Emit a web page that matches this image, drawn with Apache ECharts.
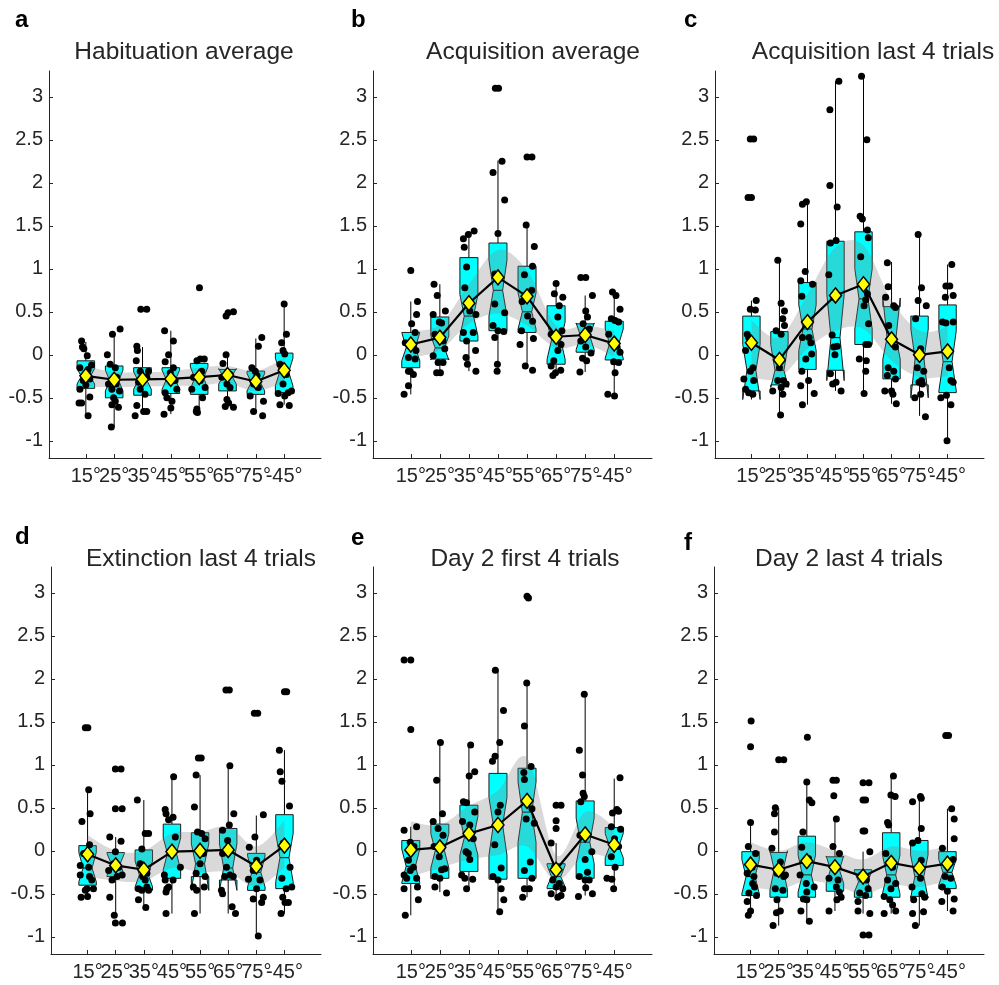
<!DOCTYPE html>
<html><head><meta charset="utf-8">
<script src="https://cdn.jsdelivr.net/npm/echarts@6/dist/echarts.min.js"></script>
<style>html,body{margin:0;padding:0;background:#fff}#c{width:999px;height:985px}</style>
</head><body><div id="c"></div><script>
// ---------- labels ----------
const xLabels = ['15°','25°','35°','45°','55°','65°','75°','-45°'];
const yTicks = [-1,-0.5,0,0.5,1,1.5,2,2.5,3];
const titles = ['Habituation average','Acquisition average','Acquisition last 4 trials','Extinction last 4 trials','Day 2 first 4 trials','Day 2 last 4 trials'];
const letters = ['a','b','c','d','e','f'];

// ---------- panel a ----------
const q1A = [-0.39,-0.50,-0.47,-0.45,-0.46,-0.42,-0.46,-0.44];
const q3A = [-0.07,-0.13,-0.15,-0.15,-0.10,-0.17,-0.19,0.02];
const medA = [-0.25,-0.30,-0.30,-0.29,-0.27,-0.25,-0.32,-0.20];
const nLoA = [-0.34,-0.42,-0.40,-0.40,-0.40,-0.34,-0.42,-0.36];
const nHiA = [-0.16,-0.18,-0.20,-0.18,-0.14,-0.16,-0.22,-0.04];
const wLoA = [-0.71,-0.84,-0.68,-0.69,-0.67,-0.60,-0.67,-0.58];
const wHiA = [0.15,0.26,0.09,0.28,-0.05,0.0,0.19,0.59];
const meanA = [-0.245,-0.29,-0.285,-0.28,-0.26,-0.235,-0.31,-0.18];
const bandLoA = [-0.37,-0.38,-0.37,-0.36,-0.36,-0.33,-0.42,-0.32];
const bandHiA = [-0.13,-0.20,-0.20,-0.19,-0.15,-0.13,-0.19,-0.04];
const ptsA = [
 [[-0.15,0.16],[-0.12,0.09],[-0.07,0.07],[0.05,-0.01],[-0.21,-0.15],[0.08,-0.17],[0.2,-0.12],[-0.09,-0.3],[0.14,-0.28],[-0.21,-0.4],[-0.24,-0.56],[-0.15,-0.56],[0.14,-0.49],[0.08,-0.71],[0,-0.35],[0.05,-0.22]],
 [[-0.06,0.24],[0.21,0.3],[-0.24,0.0],[-0.14,-0.11],[0.04,-0.15],[0.09,-0.26],[-0.08,-0.4],[-0.02,-0.5],[0.04,-0.54],[-0.08,-0.58],[0.15,-0.61],[-0.1,-0.84],[-0.2,-0.34],[0.19,-0.42],[0.07,-0.34]],
 [[-0.06,0.53],[0.15,0.53],[-0.2,0.1],[-0.18,0.05],[-0.22,-0.07],[-0.08,-0.19],[0.15,-0.26],[-0.08,-0.4],[0.09,-0.46],[-0.2,-0.59],[-0.26,-0.71],[0.04,-0.66],[0.15,-0.66],[-0.14,-0.32],[0.21,-0.19]],
 [[-0.22,0.28],[0.09,0.16],[-0.08,0.0],[-0.2,-0.08],[-0.02,-0.21],[0.15,-0.3],[-0.2,-0.44],[-0.14,-0.5],[0.04,-0.54],[0,-0.62],[-0.24,-0.69],[0.21,-0.4],[0.09,-0.15]],
 [[0.01,0.78],[0.04,-0.05],[0.18,-0.05],[-0.08,-0.07],[-0.2,-0.26],[0.04,-0.3],[-0.26,-0.4],[0.12,-0.5],[-0.08,-0.63],[-0.06,-0.67],[-0.1,-0.66],[0.21,-0.38],[0.09,-0.19]],
 [[-0.05,0.45],[0.02,0.49],[0.21,0.5],[-0.05,0.0],[-0.16,-0.1],[0.09,-0.23],[-0.02,-0.34],[0.09,-0.38],[-0.02,-0.52],[0.04,-0.56],[-0.08,-0.6],[0.21,-0.61],[-0.2,-0.26]],
 [[0.21,0.2],[0.09,0.1],[-0.14,-0.15],[-0.02,-0.19],[0.04,-0.24],[-0.08,-0.34],[-0.2,-0.48],[0.27,-0.54],[-0.08,-0.66],[0.24,-0.71],[0.09,-0.38]],
 [[0,0.59],[0.08,0.24],[-0.09,0.14],[-0.04,0.05],[0.02,0.01],[-0.15,-0.11],[0.08,-0.23],[-0.04,-0.34],[-0.21,-0.45],[0.14,-0.44],[0.02,-0.48],[-0.15,-0.58],[0.18,-0.59],[0.26,-0.42]]
];

// ---------- panel b ----------
const q1B = [-0.15,-0.05,0.16,0.28,0.26,-0.11,0.03,-0.06];
const q3B = [0.26,0.44,1.13,1.30,1.03,0.57,0.36,0.39];
const medB = [0.08,0.08,0.45,0.75,0.50,0.17,0.22,0.13];
const nLoB = [-0.07,-0.06,0.22,0.45,0.30,-0.05,0.06,-0.04];
const nHiB = [0.26,0.22,0.70,1.10,0.72,0.38,0.37,0.30];
const wLoB = [-0.46,-0.21,-0.19,-0.19,-0.14,-0.24,-0.20,-0.48];
const wHiB = [0.62,0.82,1.44,2.26,1.51,0.84,0.69,0.73];
const meanB = [0.12,0.2,0.6,0.9,0.68,0.21,0.23,0.13];
const bandLoB = [-0.03,0.05,0.36,0.48,0.34,0.08,0.12,-0.02];
const bandHiB = [0.28,0.35,0.82,1.22,0.98,0.34,0.34,0.28];
const ptsB = [
 [[0,0.98],[0.23,0.62],[0.2,0.47],[0.03,0.36],[0.15,0.26],[-0.19,0.14],[0.09,0.09],[-0.08,-0.03],[0.15,-0.05],[-0.08,-0.19],[0.09,-0.23],[-0.02,-0.19],[-0.08,-0.36],[-0.23,-0.46],[0.18,0.05]],
 [[-0.2,0.82],[-0.09,0.69],[0.19,0.51],[-0.23,0.47],[-0.02,0.38],[0.06,0.37],[-0.17,0.24],[0.11,0.16],[0.17,0.07],[-0.23,-0.01],[-0.06,-0.09],[0.11,-0.09],[-0.11,-0.21],[0.02,-0.21]],
 [[-0.19,1.35],[-0.02,1.4],[0.18,1.44],[-0.16,1.25],[-0.08,1.02],[-0.14,0.78],[0.03,0.51],[0.24,0.47],[-0.19,0.26],[0.15,0.26],[-0.08,0.16],[0.23,0.05],[-0.1,-0.03],[-0.05,-0.11],[0.24,-0.19]],
 [[-0.09,3.1],[0.02,3.1],[0.14,2.25],[-0.17,2.12],[0.23,1.8],[0,1.41],[-0.11,0.94],[0.03,0.89],[-0.11,0.59],[0.23,0.49],[-0.17,0.34],[0,0.28],[0.2,0.27],[-0.11,0.2],[-0.02,-0.11],[-0.03,-0.19]],
 [[0,2.3],[0.17,2.3],[-0.03,1.51],[0.25,1.26],[0.19,1.03],[-0.09,0.93],[0.16,0.75],[-0.17,0.62],[0.02,0.45],[0.19,0.39],[-0.19,0.28],[-0.24,0.12],[0.22,0.19],[-0.06,-0.13],[0.19,-0.18]],
 [[0,0.83],[-0.06,0.71],[0.23,0.67],[0.11,0.57],[0.06,0.44],[0.2,0.28],[-0.17,0.24],[0.17,0.12],[0.06,0.05],[-0.08,-0.07],[-0.17,-0.13],[0.16,-0.18],[-0.11,-0.24],[-0.02,-0.21]],
 [[-0.15,0.9],[0.02,0.9],[0.25,0.69],[0.02,0.51],[0.08,0.44],[-0.07,0.36],[0.14,0.3],[-0.15,0.16],[0.02,0.09],[-0.09,-0.04],[0.05,-0.07],[-0.18,-0.2],[0.2,0.02]],
 [[-0.06,0.73],[0.06,0.69],[0.2,0.53],[-0.1,0.42],[0.03,0.4],[0.15,0.38],[-0.19,0.24],[0.09,0.1],[0.2,0.03],[-0.02,-0.08],[0.15,-0.09],[0.03,-0.21],[-0.22,-0.46],[0.01,-0.48]]
];

// ---------- panel c ----------
const q1C = [-0.42,-0.35,-0.17,-0.18,0.12,-0.28,-0.35,-0.44];
const q3C = [0.45,0.27,0.84,1.32,1.43,0.56,0.45,0.58];
const medC = [-0.18,-0.18,0.30,0.20,0.65,0.20,-0.05,-0.08];
const nLoC = [-0.52,-0.38,0.05,-0.30,0.30,-0.05,-0.50,-0.42];
const nHiC = [0.12,0.12,0.58,0.70,1.00,0.66,0.30,0.28];
const wLoC = [-0.52,-0.70,-0.58,-0.42,-0.45,-0.57,-0.71,-1.00];
const wHiC = [0.63,1.10,1.78,3.18,3.24,1.08,1.40,1.05];
const meanC = [0.14,-0.06,0.38,0.69,0.82,0.18,0.0,0.04];
const bandLoC = [-0.26,-0.27,0.07,0.28,0.3,-0.07,-0.26,-0.25];
const bandHiC = [0.4,0.2,0.7,1.25,1.27,0.63,0.28,0.32];
const ptsC = [
 [[-0.04,2.51],[0.08,2.51],[-0.12,1.83],[0,1.83],[0.17,0.63],[-0.04,0.53],[0.14,0.52],[-0.15,0.24],[-0.1,0.2],[-0.21,0.05],[0.05,-0.15],[-0.04,-0.19],[-0.27,-0.28],[0.08,-0.3],[-0.1,-0.44],[0.05,-0.46],[-0.21,-0.4]],
 [[-0.06,1.1],[0.06,0.6],[0.18,0.51],[0.12,0.42],[0.18,0.34],[0.06,0.24],[-0.12,0.28],[0,-0.15],[-0.06,-0.3],[0.14,-0.3],[0.24,-0.34],[-0.24,-0.42],[0.12,-0.46],[0.06,-0.38],[0.04,-0.7]],
 [[-0.18,1.75],[-0.04,1.78],[-0.24,1.52],[-0.08,0.97],[-0.24,0.86],[0.18,0.82],[-0.2,0.68],[-0.18,0.2],[0.06,0.2],[0.12,0.14],[0.15,0.01],[-0.06,-0.05],[-0.2,-0.19],[0.04,-0.3],[-0.24,-0.36],[0.24,-0.45],[-0.18,-0.58]],
 [[-0.2,2.85],[0.12,3.18],[-0.2,1.97],[0.06,1.72],[0.02,1.33],[-0.18,1.3],[-0.24,0.93],[-0.06,0.67],[-0.12,0.23],[-0.06,0.09],[0.06,0.1],[-0.02,0.0],[-0.18,-0.22],[-0.1,-0.34],[0.02,-0.32],[0.2,-0.42]],
 [[-0.07,3.24],[0.12,2.5],[-0.12,1.61],[-0.04,1.58],[0.14,1.45],[0.17,1.36],[-0.1,1.14],[0.14,0.71],[0.08,0.64],[0.02,0.57],[0.18,0.36],[0.08,0.12],[0.18,0.12],[-0.15,-0.05],[0.1,-0.07],[0.08,-0.19],[0.02,-0.45]],
 [[-0.15,1.07],[-0.12,0.79],[-0.21,0.67],[0.08,0.57],[0.14,0.55],[-0.1,0.34],[0.02,0.2],[0.14,0.09],[-0.12,-0.15],[0.08,-0.19],[0.14,-0.28],[-0.15,-0.24],[-0.24,-0.42],[0,-0.42],[0.05,-0.46],[0.17,-0.57]],
 [[-0.05,1.4],[0.07,0.78],[0.24,0.57],[-0.05,0.63],[-0.14,0.42],[0.04,0.07],[-0.08,-0.15],[0.07,-0.3],[-0.02,-0.32],[0.1,-0.34],[-0.17,-0.5],[0.04,-0.46],[0.21,-0.72],[0.15,-0.19]],
 [[0.15,1.05],[-0.06,0.8],[0.08,0.8],[-0.08,0.67],[0.2,0.69],[-0.18,0.38],[-0.06,0.37],[0.2,0.38],[0.04,0.05],[0.06,-0.15],[0.12,-0.3],[0.2,-0.32],[-0.24,-0.5],[-0.04,-0.47],[0.12,-0.58],[-0.02,-1.0]]
];

// ---------- panel d ----------
const q1D = [-0.40,-0.30,-0.46,-0.32,-0.30,-0.34,-0.46,-0.44];
const q3D = [0.06,-0.02,0.01,0.31,0.21,0.26,-0.03,0.42];
const medD = [-0.20,-0.15,-0.28,-0.03,-0.15,-0.20,-0.25,-0.08];
const nLoD = [-0.36,-0.29,-0.42,-0.22,-0.46,-0.46,-0.42,-0.36];
const nHiD = [-0.02,-0.03,-0.12,0.15,0.08,0.08,-0.06,0.20];
const wLoD = [-0.54,-0.75,-0.66,-0.73,-0.73,-0.73,-0.96,-0.73];
const wHiD = [0.71,0.16,0.59,0.86,0.88,0.99,0.41,1.17];
const meanD = [-0.04,-0.17,-0.22,-0.01,0.0,0.01,-0.18,0.06];
const bandLoD = [-0.3,-0.35,-0.35,-0.2,-0.25,-0.25,-0.42,-0.2];
const bandHiD = [0.18,0.0,0.0,0.2,0.22,0.28,0.05,0.35];
const ptsD = [
 [[-0.08,1.43],[0.01,1.43],[0.04,0.71],[0.09,0.43],[-0.2,0.34],[0.07,0.07],[-0.14,-0.03],[-0.26,-0.17],[0.04,-0.19],[-0.26,-0.28],[0.07,-0.3],[0.15,-0.34],[-0.02,-0.44],[0.21,-0.44],[-0.08,-0.46],[0,-0.53],[-0.23,-0.54]],
 [[-0.01,0.95],[0.19,0.95],[-0.01,0.49],[0.23,0.49],[-0.21,0.16],[0.19,0.11],[-0.01,-0.01],[-0.07,-0.15],[0.11,-0.19],[-0.25,-0.23],[0.23,-0.28],[-0.13,-0.34],[0.05,-0.3],[-0.21,-0.54],[-0.05,-0.75],[-0.01,-0.84],[0.24,-0.84]],
 [[-0.23,0.59],[0.05,0.2],[0.17,0.2],[-0.07,0.02],[-0.13,-0.15],[0.11,-0.26],[0.05,-0.34],[-0.19,-0.44],[-0.07,-0.46],[0.11,-0.42],[0.17,-0.46],[-0.19,-0.57],[0.07,-0.66],[-0.04,-0.3]],
 [[0.06,0.86],[-0.24,0.48],[-0.21,0.43],[-0.12,0.36],[0.04,0.39],[0.12,0.16],[-0.06,-0.03],[0.3,-0.19],[-0.27,-0.28],[-0.24,-0.34],[0.04,-0.34],[-0.18,-0.44],[-0.21,-0.48],[-0.12,-0.42],[-0.21,-0.73]],
 [[-0.06,1.08],[0.04,1.08],[-0.14,0.88],[-0.2,0.51],[-0.09,0.22],[0.06,0.2],[0.18,0.14],[0.12,-0.03],[0,-0.15],[-0.14,-0.26],[0.18,-0.3],[-0.24,-0.42],[-0.12,-0.46],[0.15,-0.42],[-0.2,-0.73]],
 [[-0.08,1.87],[0.04,1.87],[0.06,0.99],[0.2,0.43],[-0.2,0.24],[0.04,0.3],[-0.02,0.12],[-0.2,-0.03],[-0.06,-0.19],[0.06,-0.28],[-0.12,-0.3],[0.18,-0.3],[-0.24,-0.46],[-0.2,-0.5],[0.14,-0.65],[0.26,-0.73]],
 [[-0.07,1.6],[0.05,1.6],[0.25,0.42],[-0.05,0.16],[-0.25,0.04],[0.01,-0.11],[-0.11,-0.23],[-0.28,-0.33],[0.13,-0.34],[0.01,-0.44],[-0.11,-0.56],[0.19,-0.6],[0.25,-0.54],[0.07,-0.99]],
 [[0,1.85],[0.08,1.85],[-0.18,1.17],[-0.15,0.92],[-0.09,0.81],[0.18,0.52],[-0.04,0.09],[0.2,-0.19],[-0.09,-0.32],[0.06,-0.44],[0.26,-0.42],[-0.06,-0.54],[0.02,-0.6],[0.14,-0.6],[-0.12,-0.73]]
];

// ---------- panel e ----------
const q1E = [-0.38,-0.32,-0.24,-0.33,-0.32,-0.44,-0.32,-0.17];
const q3E = [0.12,0.31,0.53,0.90,0.96,-0.15,0.58,0.27];
const medE = [-0.18,0.0,0.15,0.30,0.45,-0.30,0.10,0.05];
const nLoE = [-0.37,-0.20,-0.05,-0.05,0.10,-0.42,-0.15,-0.08];
const nHiE = [0.02,0.20,0.40,0.62,0.80,-0.17,0.38,0.20];
const wLoE = [-0.75,-0.48,-0.44,-0.71,-0.54,-0.54,-0.52,-0.44];
const wHiE = [0.28,1.26,1.23,2.10,1.95,0.09,1.83,0.84];
const meanE = [0.01,0.04,0.2,0.3,0.58,-0.22,0.19,0.07];
const bandLoE = [-0.3,-0.2,-0.1,-0.05,0.05,-0.35,-0.05,-0.1];
const bandHiE = [0.34,0.3,0.52,0.7,1.08,-0.05,0.45,0.28];
const ptsE = [
 [[-0.23,2.22],[0,2.22],[0,1.41],[0.2,0.28],[-0.23,0.24],[-0.02,0.1],[0.11,0.05],[-0.08,-0.11],[0.09,-0.19],[-0.02,-0.23],[-0.23,-0.28],[-0.14,-0.32],[0.2,-0.32],[-0.23,-0.44],[0.23,-0.42],[0.26,-0.57],[-0.19,-0.75]],
 [[0.02,1.26],[-0.11,0.82],[0.09,0.43],[-0.23,0.34],[-0.06,0.26],[0.11,0.18],[-0.2,0.05],[-0.02,-0.07],[0.17,-0.21],[0.06,-0.22],[-0.17,-0.3],[0,-0.32],[-0.17,-0.42],[0.23,-0.49]],
 [[0.06,1.23],[0.2,0.92],[0.01,0.87],[-0.19,0.57],[-0.08,0.56],[0.2,0.45],[-0.22,0.34],[0.03,0.3],[0.15,0.14],[-0.1,-0.01],[-0.02,-0.03],[0.03,-0.1],[-0.25,-0.28],[-0.14,-0.32],[0.13,-0.33],[-0.08,-0.44]],
 [[-0.09,2.1],[0.19,1.63],[0.06,1.26],[-0.19,1.04],[-0.1,1.1],[0.08,0.53],[0,0.45],[-0.06,0.3],[-0.11,0.07],[0.11,-0.2],[-0.17,-0.3],[0,-0.34],[0.11,-0.44],[0.2,-0.57],[0.06,-0.71]],
 [[0,2.96],[0.05,2.94],[-0.01,1.95],[-0.09,1.45],[0.14,0.98],[-0.11,0.91],[-0.09,0.83],[0.17,0.49],[-0.03,0.37],[0.25,0.32],[0.11,-0.13],[-0.09,-0.23],[0.17,-0.32],[-0.15,-0.54],[-0.09,-0.44],[0.08,-0.44]],
 [[0,0.53],[0.17,0.53],[0,0.35],[0,0.26],[-0.17,0.09],[-0.06,-0.19],[-0.11,-0.34],[0.11,-0.38],[-0.17,-0.5],[0.06,-0.54],[0.17,-0.52],[0.23,-0.44],[0,-0.42]],
 [[-0.03,1.82],[-0.2,1.17],[-0.09,0.88],[-0.07,0.67],[-0.03,0.63],[-0.15,0.57],[-0.18,0.18],[0.23,-0.01],[0,-0.1],[0.08,-0.25],[-0.2,-0.3],[0,-0.34],[0.14,-0.34],[0.02,-0.43],[-0.23,-0.53],[0.25,-0.5]],
 [[0.2,0.85],[0.09,0.48],[-0.06,0.44],[0.15,0.46],[-0.1,0.28],[0.22,0.25],[0.01,0.14],[0.15,0.05],[-0.1,-0.07],[0.03,-0.19],[-0.25,-0.32],[-0.08,-0.33],[-0.02,-0.44]]
];

// ---------- panel f ----------
const q1F = [-0.52,-0.54,-0.54,-0.47,-0.54,-0.54,-0.53,-0.44];
const q3F = [-0.01,-0.02,0.17,-0.07,-0.22,0.21,0.12,-0.01];
const medF = [-0.30,-0.22,-0.28,-0.22,-0.36,-0.28,-0.30,-0.25];
const nLoF = [-0.50,-0.45,-0.48,-0.38,-0.48,-0.50,-0.55,-0.40];
const nHiF = [-0.10,0.00,-0.05,-0.06,-0.24,-0.05,-0.05,-0.10];
const wLoF = [-0.75,-0.87,-0.82,-0.70,-0.73,-0.73,-0.87,-0.70];
const wHiF = [0.33,0.50,0.80,0.37,-0.01,0.87,0.63,0.49];
const meanF = [-0.16,-0.22,-0.12,-0.19,-0.3,-0.14,-0.2,-0.15];
const bandLoF = [-0.42,-0.45,-0.35,-0.4,-0.5,-0.4,-0.42,-0.35];
const bandHiF = [0.1,0.0,0.1,0.0,-0.1,0.05,0.0,0.05];
const ptsF = [
 [[0.02,1.51],[0,1.21],[0,0.33],[-0.08,0.05],[0.18,-0.03],[0.06,-0.19],[-0.12,-0.26],[0.12,-0.3],[0.14,-0.42],[-0.06,-0.49],[0.21,-0.52],[-0.12,-0.59],[0,-0.7],[-0.08,-0.75],[0.07,-0.38]],
 [[0,1.06],[0.18,1.06],[-0.12,0.5],[-0.15,0.43],[-0.15,0.22],[-0.24,0.03],[0.06,-0.13],[-0.06,-0.26],[0.18,-0.3],[-0.12,-0.44],[0.15,-0.46],[-0.06,-0.57],[0.06,-0.7],[-0.08,-0.72],[-0.2,-0.87],[0.24,-0.28]],
 [[0.02,1.32],[0,0.8],[0.09,0.59],[0.18,0.56],[-0.14,0.22],[-0.18,0.04],[0.06,-0.09],[-0.24,-0.28],[-0.02,-0.38],[0.26,-0.42],[0,-0.48],[-0.12,-0.56],[0,-0.57],[-0.21,-0.7],[0.09,-0.82]],
 [[-0.07,0.82],[0.05,0.82],[-0.04,0.64],[0.05,0.37],[-0.07,0.05],[0.16,-0.03],[-0.01,-0.19],[-0.21,-0.32],[0.11,-0.34],[0.05,-0.42],[0.16,-0.48],[0.22,-0.54],[0.07,-0.57],[-0.21,-0.7]],
 [[0,0.79],[0.21,0.79],[0,0.59],[0.09,0.59],[0,0.23],[0.06,0.23],[0.24,-0.01],[-0.06,-0.28],[0.12,-0.34],[0.18,-0.44],[-0.12,-0.49],[0.09,-0.52],[-0.18,-0.59],[-0.18,-0.7],[0.24,-0.73],[0,-0.98],[0.21,-0.98]],
 [[0.08,0.87],[-0.01,0.65],[0.14,0.63],[-0.13,0.33],[-0.09,0.3],[-0.19,-0.03],[0.05,-0.19],[-0.13,-0.34],[0.16,-0.38],[-0.25,-0.53],[-0.05,-0.57],[0.05,-0.63],[0.16,-0.7],[-0.25,-0.73],[-0.01,-0.44]],
 [[0.04,0.63],[0.07,0.61],[-0.24,0.57],[0.07,0.26],[-0.24,0.09],[-0.05,0.12],[0.07,-0.11],[-0.08,-0.21],[-0.26,-0.42],[0.04,-0.32],[0.09,-0.5],[0.19,-0.54],[-0.2,-0.57],[0.15,-0.71],[-0.24,-0.73],[-0.14,-0.87]],
 [[-0.06,1.34],[0.04,1.34],[0.15,0.49],[0.24,0.37],[0.24,0.14],[-0.18,0.03],[0.2,-0.1],[0,-0.17],[-0.08,-0.3],[0.12,-0.32],[-0.18,-0.42],[0,-0.47],[-0.2,-0.59],[0.24,-0.56],[0.2,-0.7]]
];

// ---------- assembly ----------
const panels = [
 {q1:q1A,q3:q3A,med:medA,nlo:nLoA,nhi:nHiA,wlo:wLoA,whi:wHiA,mean:meanA,blo:bandLoA,bhi:bandHiA,pts:ptsA},
 {q1:q1B,q3:q3B,med:medB,nlo:nLoB,nhi:nHiB,wlo:wLoB,whi:wHiB,mean:meanB,blo:bandLoB,bhi:bandHiB,pts:ptsB},
 {q1:q1C,q3:q3C,med:medC,nlo:nLoC,nhi:nHiC,wlo:wLoC,whi:wHiC,mean:meanC,blo:bandLoC,bhi:bandHiC,pts:ptsC},
 {q1:q1D,q3:q3D,med:medD,nlo:nLoD,nhi:nHiD,wlo:wLoD,whi:wHiD,mean:meanD,blo:bandLoD,bhi:bandHiD,pts:ptsD},
 {q1:q1E,q3:q3E,med:medE,nlo:nLoE,nhi:nHiE,wlo:wLoE,whi:wHiE,mean:meanE,blo:bandLoE,bhi:bandHiE,pts:ptsE},
 {q1:q1F,q3:q3F,med:medF,nlo:nLoF,nhi:nHiF,wlo:wLoF,whi:wHiF,mean:meanF,blo:bandLoF,bhi:bandHiF,pts:ptsF}
];

const FONT = '"Liberation Sans", Arial, sans-serif';
const TXT = '#262626';
const BOX_HALF = 0.31, NOTCH_INSET = 0.15;
const BAND = 'rgba(128,128,128,0.3)';
const gridPos = [
 {left:49, top:71, width:272, height:387},
 {left:373, top:71, width:279, height:387},
 {left:715, top:71, width:269, height:387},
 {left:51, top:567, width:270, height:387},
 {left:373, top:567, width:279, height:387},
 {left:714, top:567, width:270, height:387}
];
const titlePos = [[184,52.5],[533,52.5],[873,52.5],[201,559.5],[525,559.5],[849,559.5]];
const letterPos = [[15,20],[351,20],[684,20],[15,537],[351,538],[684,543.5]];
const cats = [1,2,3,4,5,6,7,8];
const catsOdd = cats.filter((c, i) => i % 2 === 0);
const catsEven = cats.filter((c, i) => i % 2 === 1);

function renderBox(params, api) {
  const x = api.value(0);
  const q1 = api.value(1), nlo = api.value(2), med = api.value(3), nhi = api.value(4), q3 = api.value(5), wlo = api.value(6), whi = api.value(7);
  const c = (xx, yy) => api.coord([xx, yy]);
  const L = x - BOX_HALF, R = x + BOX_HALF;
  const poly = [c(L,q1), c(L,nlo), c(L+NOTCH_INSET,med), c(L,nhi), c(L,q3), c(R,q3), c(R,nhi), c(R-NOTCH_INSET,med), c(R,nlo), c(R,q1)];
  const top = c(x,q3), wt = c(x,whi), bot = c(x,q1), wb = c(x,wlo);
  const m1 = c(L+NOTCH_INSET,med), m2 = c(R-NOTCH_INSET,med);
  return {type:'group', children:[
    {type:'line', shape:{x1:top[0],y1:top[1],x2:wt[0],y2:wt[1]}, style:{stroke:'#000',lineWidth:1}},
    {type:'line', shape:{x1:bot[0],y1:bot[1],x2:wb[0],y2:wb[1]}, style:{stroke:'#000',lineWidth:1}},
    {type:'polygon', shape:{points:poly}, style:{fill:'#00ffff',stroke:'#1a1a1a',lineWidth:1}},
    {type:'line', shape:{x1:m1[0],y1:m1[1],x2:m2[0],y2:m2[1]}, style:{stroke:'#000',lineWidth:1}}
  ]};
}

function bandRenderer(lo, hi) {
  return function (params, api) {
    if (params.dataIndex !== 0) return {type:'group', children:[]};
    const up = hi.map((v,i) => api.coord([cats[i], v]));
    const dn = lo.map((v,i) => api.coord([cats[i], v])).reverse();
    const seg = (P, first) => {
      let d = (first ? 'M' : 'L') + P[0][0] + ',' + P[0][1];
      for (let i = 0; i < P.length - 1; i++) {
        const p0 = P[Math.max(i-1,0)], p1 = P[i], p2 = P[i+1], p3 = P[Math.min(i+2,P.length-1)];
        const c1 = [p1[0]+(p2[0]-p0[0])/6, p1[1]+(p2[1]-p0[1])/6];
        const c2 = [p2[0]-(p3[0]-p1[0])/6, p2[1]-(p3[1]-p1[1])/6];
        d += 'C' + c1[0]+','+c1[1]+' '+c2[0]+','+c2[1]+' '+p2[0]+','+p2[1];
      }
      return d;
    };
    return {type:'path', shape:{pathData: seg(up,true) + seg(dn,false) + 'Z'}, style:{fill:BAND}};
  };
}

const xLabelStyle = {show:true, showMinLabel:true, showMaxLabel:true, hideOverlap:false,
  formatter:v => xLabels[Math.round(v)-1], color:TXT, fontSize:20, fontFamily:FONT, margin:8};

const grid = [], xAxis = [], yAxis = [], series = [], graphic = [];
panels.forEach((p, k) => {
  grid.push(Object.assign({outerBoundsMode:'none', containLabel:false}, gridPos[k]));
  // main x axis: line, ticks, odd labels
  xAxis.push({gridIndex:k, type:'value', min:-0.3, max:9.3, position:'bottom',
    axisLine:{show:true, onZero:false, lineStyle:{color:TXT, width:1}},
    axisTick:{show:true, inside:true, length:4, customValues:cats, lineStyle:{color:TXT}},
    axisLabel:Object.assign({customValues:catsOdd}, xLabelStyle),
    splitLine:{show:false}});
  // companion x axis: even labels only (kept separate so overlapping labels are not dropped)
  xAxis.push({gridIndex:k, type:'value', min:-0.3, max:9.3, position:'bottom',
    axisLine:{show:false, onZero:false},
    axisTick:{show:false},
    axisLabel:Object.assign({customValues:catsEven}, xLabelStyle),
    splitLine:{show:false}});
  yAxis.push({gridIndex:k, type:'value', min:-1.2, max:3.3,
    axisLine:{show:true, onZero:false, lineStyle:{color:TXT, width:1}},
    axisTick:{show:true, inside:true, length:4, customValues:yTicks, lineStyle:{color:TXT}},
    axisLabel:{show:true, customValues:yTicks, showMinLabel:true, showMaxLabel:true,
      formatter:v => String(v), color:TXT, fontSize:20, fontFamily:FONT, margin:6},
    splitLine:{show:false}});
  const xi = 2 * k;
  series.push({type:'custom', xAxisIndex:xi, yAxisIndex:k, z:1, silent:true,
    renderItem:renderBox, encode:{x:0, y:[1,2,3,4,5,6,7]},
    data: cats.map((x,i) => [x, p.q1[i], p.nlo[i], p.med[i], p.nhi[i], p.q3[i], p.wlo[i], p.whi[i]])});
  series.push({type:'custom', xAxisIndex:xi, yAxisIndex:k, z:2, silent:true,
    renderItem:bandRenderer(p.blo, p.bhi), encode:{x:0, y:[1,2]},
    data: cats.map((x,i) => [x, p.blo[i], p.bhi[i]])});
  series.push({type:'scatter', xAxisIndex:xi, yAxisIndex:k, z:3, silent:true,
    symbol:'circle', symbolSize:7, itemStyle:{color:'#000', opacity:1},
    data: p.pts.flatMap((grp, g) => grp.map(([dx, y]) => [cats[g] + dx, y]))});
  series.push({type:'line', xAxisIndex:xi, yAxisIndex:k, z:4, silent:true,
    data: cats.map((x,i) => [x, p.mean[i]]),
    lineStyle:{color:'#000', width:2.2}, symbol:'diamond', symbolSize:[12,15], showSymbol:true,
    itemStyle:{color:'#ffff00', borderColor:'#000', borderWidth:1.5}});
  graphic.push({type:'text', x:titlePos[k][0], y:titlePos[k][1], silent:true,
    style:{text:titles[k], fill:TXT, font:'normal 24.5px ' + FONT, textAlign:'center', textVerticalAlign:'middle'}});
  graphic.push({type:'text', x:letterPos[k][0], y:letterPos[k][1], silent:true,
    style:{text:letters[k], fill:'#000', font:'bold 24px ' + FONT, textAlign:'left', textVerticalAlign:'middle'}});
});

const chart = echarts.init(document.getElementById('c'), null, {renderer:'canvas'});
chart.setOption({animation:false, backgroundColor:'#fff', grid, xAxis, yAxis, series, graphic});
</script></body></html>
